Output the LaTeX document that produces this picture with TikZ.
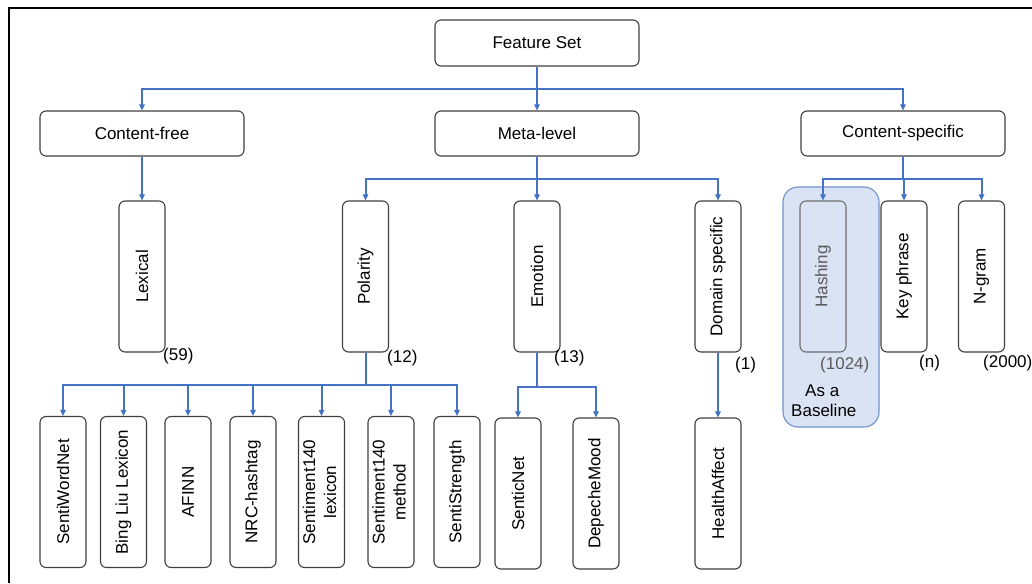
\documentclass[tikz,border=0pt]{standalone}
\usepackage{fontspec}
\setmainfont{Liberation Sans}
\usepackage{graphicx}
\usetikzlibrary{arrows.meta}
\definecolor{linkblue}{HTML}{4472C4}
\definecolor{boxgray}{HTML}{3F3F3F}
\definecolor{basefill}{HTML}{DAE3F3}
\definecolor{baseedge}{HTML}{6F91CC}
\definecolor{softgray}{HTML}{5A5A5A}
\definecolor{hashedge}{HTML}{6E6E6E}

\begin{document}
\begin{tikzpicture}[x=1pt,y=-1pt,
  every node/.style={font=\fontsize{17}{21}\selectfont, inner sep=0pt},
  hbox/.style={draw=boxgray, fill=white, line width=1.1pt, rounded corners=6pt,
    minimum width=204pt, minimum height=45pt},
  vbox/.style={draw=boxgray, fill=white, line width=1.1pt, rounded corners=6pt,
    minimum width=46pt, minimum height=151pt},
  conn/.style={draw=linkblue, line width=2pt, -{Triangle[length=6pt,width=5.5pt]}},
  count/.style={anchor=west},
]
\useasboundingbox (0,0) rectangle (1032,583);

% frame
\draw[line width=1.5pt] (9,583) -- (9,8) -- (1032,8);

% highlighted baseline group
\node[draw=baseedge, fill=basefill, line width=1.1pt, rounded corners=15pt,
  minimum width=96pt, minimum height=240pt] (base) at (831,307) {};

% top levels
\node[hbox, minimum height=46pt] (fs) at (537,43) {Feature Set};
\node[hbox] (cf) at (142,133.5) {Content-free};
\node[hbox] (ml) at (537,133.5) {Meta-level};
\node[hbox] (cs) at (903,133.5) {Content-specific};

% second level
\node[vbox] (lex)  at (142,276.5)   {\rotatebox{90}{Lexical}};
\node[vbox] (pol)  at (365.5,276.5) {\rotatebox{90}{Polarity}};
\node[vbox] (emo)  at (537,276.5)   {\rotatebox{90}{Emotion}};
\node[vbox] (dom)  at (718,276.5)   {\rotatebox{90}{Domain specific}};
\node[vbox, draw=hashedge, fill=none, text=softgray] (hash) at (823,276.5) {\rotatebox{90}{Hashing}};
\node[vbox] (kp)   at (904,276.5)   {\rotatebox{90}{Key phrase}};
\node[vbox] (ng)   at (981.5,276.5) {\rotatebox{90}{N-gram}};

% polarity lexicons
\node[vbox] (swn)  at (63,492)    {\rotatebox{90}{SentiWordNet}};
\node[vbox] (bll)  at (123.5,492) {\rotatebox{90}{Bing Liu Lexicon}};
\node[vbox] (afn)  at (188,492)   {\rotatebox{90}{AFINN}};
\node[vbox] (nrc)  at (253,492)   {\rotatebox{90}{NRC-hashtag}};
\node[vbox] (stl)  at (321.5,492) {\rotatebox{90}{\begin{tabular}{@{}c@{}}Sentiment140\\lexicon\end{tabular}}};
\node[vbox] (stm)  at (391,492)   {\rotatebox{90}{\begin{tabular}{@{}c@{}}Sentiment140\\method\end{tabular}}};
\node[vbox] (sst)  at (457,492)   {\rotatebox{90}{SentiStrength}};

% emotion lexicons
\node[vbox] (snt)  at (518,493.5) {\rotatebox{90}{SenticNet}};
\node[vbox] (dpm)  at (596,493.5) {\rotatebox{90}{DepecheMood}};

% domain lexicon
\node[vbox] (hla)  at (718,493.5) {\rotatebox{90}{HealthAffect}};

% feature counts
\node[count] (nlex) at (163,356) {(59)};
\node[count] (npol) at (387,358) {(12)};
\node[count] (nemo) at (554,358) {(13)};
\node[count] (ndom) at (735,365) {(1)};
\node[count, text=softgray] (nhash) at (820,365) {(1024)};
\node[count] (nkp)  at (919,363) {(n)};
\node[count] (nng)  at (983,363) {(2000)};
\node[count] (bl1)  at (805,391) {As a};
\node[count] (bl2)  at (791,410.5) {Baseline};

% connectors
\draw[conn] (fs.south) -- ++(0,22) -| (cf.north);
\draw[conn] (fs.south) -- (ml.north);
\draw[conn] (fs.south) -- ++(0,22) -| (cs.north);

\draw[conn] (cf.south) -- (lex.north);

\draw[conn] (ml.south) -- ++(0,22) -| (pol.north);
\draw[conn] (ml.south) -- (emo.north);
\draw[conn] (ml.south) -- ++(0,22) -| (dom.north);

\draw[conn] (cs.south) -- ++(0,22) -| (hash.north);
\draw[conn] (cs.south) -- ++(0,22) -| (kp.north);
\draw[conn] (cs.south) -- ++(0,22) -| (ng.north);

\foreach \c in {swn,bll,afn,nrc,stl,stm,sst}
  \draw[conn] (pol.south) -- ++(0,32) -| (\c.north);

\foreach \c in {snt,dpm}
  \draw[conn] (emo.south) -- ++(0,34) -| (\c.north);

\draw[conn] (dom.south) -- (hla.north);
\end{tikzpicture}
\end{document}
